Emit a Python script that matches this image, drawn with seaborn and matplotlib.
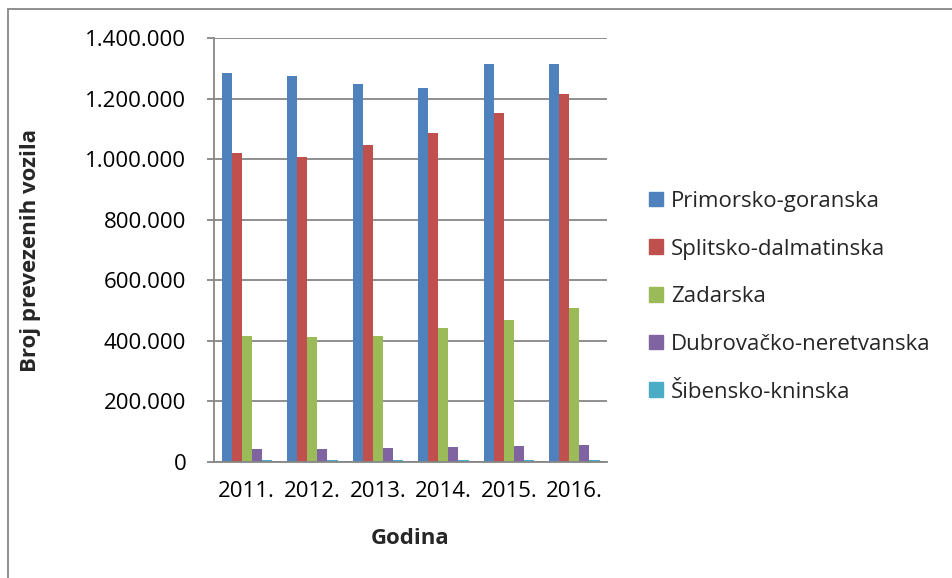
import pandas as pd
import seaborn as sns
from matplotlib import pyplot as plt
from matplotlib.patches import Rectangle
from matplotlib.ticker import FuncFormatter

years = ["2011.", "2012.", "2013.", "2014.", "2015.", "2016."]
counties = [
    "Primorsko-goranska",
    "Splitsko-dalmatinska",
    "Zadarska",
    "Dubrovačko-neretvanska",
    "Šibensko-kninska",
]
primorsko = [1287000, 1276000, 1249000, 1237000, 1315000, 1316000]
splitsko = [1022000, 1009000, 1049000, 1086000, 1153000, 1217000]
zadarska = [418000, 412000, 417000, 444000, 468000, 508000]
dubrovacko = [44000, 44000, 47000, 48000, 52000, 56000]
sibensko = [5500, 5500, 5500, 5500, 6000, 6000]

COLORS = ["#4F81BD", "#C0504D", "#9BBB59", "#8064A2", "#4BACC6"]
GRID = "#868686"
FS = 16

series = [primorsko, splitsko, zadarska, dubrovacko, sibensko]
rows = []
for county, values in zip(counties, series):
    for year, v in zip(years, values):
        rows.append({"Godina": year, "Županija": county, "Vozila": v})
df = pd.DataFrame(rows)

sns.set_theme(style="white")
plt.rcParams["font.family"] = ["Open Sans", "DejaVu Sans"]

fig = plt.figure(figsize=(9.53, 5.78), dpi=100)
ax = fig.add_axes([0.2246, 0.2007, 0.4124, 0.7327])

sns.barplot(
    data=df, x="Godina", y="Vozila", hue="Županija",
    order=years, hue_order=counties, palette=COLORS,
    width=0.77, linewidth=0, saturation=1, ax=ax, legend=False,
)

ax.set_ylim(0, 1400000)
ax.set_yticks(range(0, 1400001, 200000))
ax.yaxis.set_major_formatter(
    FuncFormatter(lambda v, _: f"{int(v):,}".replace(",", "."))
)
ax.grid(axis="y", color=GRID, linewidth=1.3)
ax.set_axisbelow(True)
for side in ["top", "right"]:
    ax.spines[side].set_visible(False)
ax.spines["left"].set_color(GRID)
ax.spines["left"].set_linewidth(1.3)
ax.spines["bottom"].set_color(GRID)
ax.spines["bottom"].set_linewidth(1.3)
ax.tick_params(axis="y", length=5, width=1.3, color=GRID, left=True,
               labelsize=FS, pad=15)
ax.tick_params(axis="x", length=0, labelsize=FS, pad=14)
for lbl in ax.get_xticklabels() + ax.get_yticklabels():
    lbl.set_color("black")

ax.set_xlabel("Godina", fontsize=FS, fontweight="bold")
ax.set_ylabel("Broj prevezenih vozila", fontsize=FS, fontweight="bold")
ax.xaxis.set_label_coords(0.5, -0.155)
ax.yaxis.set_label_coords(-0.44, 0.5)

handles = [Rectangle((0, 0), 1, 1, color=c) for c in COLORS]
fig.legend(
    handles, counties, loc="center left", bbox_to_anchor=(0.681, 0.4867),
    frameon=False, fontsize=FS, handlelength=0.63, handleheight=0.63,
    handletextpad=0.35, labelspacing=1.2, borderaxespad=0, borderpad=0,
)

fig.add_artist(Rectangle((8 / 953, -0.05), 1.0, 1 - 9 / 578 + 0.05,
                         transform=fig.transFigure, fill=False,
                         edgecolor=GRID, linewidth=1.3))

plt.savefig("out.png", dpi=100)
